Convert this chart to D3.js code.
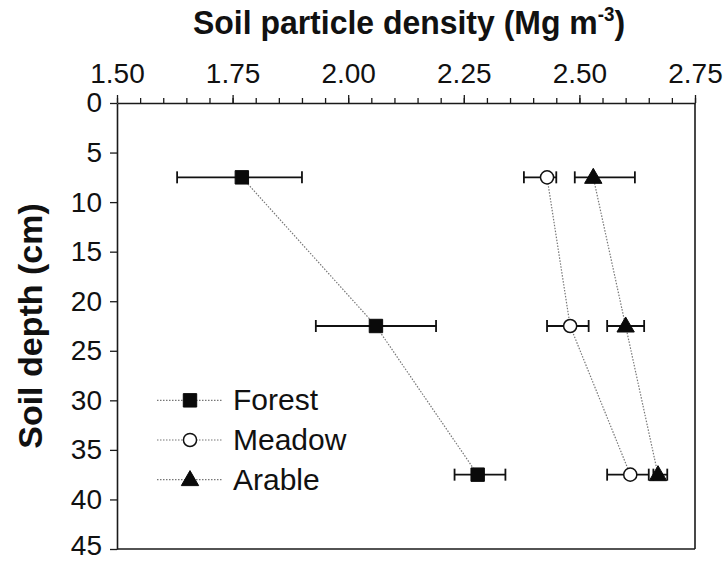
<!DOCTYPE html>
<html>
<head>
<meta charset="utf-8">
<script src="https://cdn.jsdelivr.net/npm/d3@7"></script>
<style>
  html, body { margin: 0; padding: 0; background: #fff; }
  svg { display: block; font-family: "Liberation Sans", Arial, sans-serif; }
</style>
</head>
<body>
<svg id="chart" width="728" height="562"></svg>
<script>
// ---- data ----
const depths = [7.5, 22.5, 37.5];
const seriesNames = ["Forest", "Meadow", "Arable"];
const forestMean = [1.77, 2.06, 2.28];
const forestLow  = [1.63, 1.93, 2.23];
const forestHigh = [1.90, 2.19, 2.34];
const meadowMean = [2.43, 2.48, 2.61];
const meadowLow  = [2.38, 2.43, 2.56];
const meadowHigh = [2.45, 2.52, 2.65];
const arableMean = [2.53, 2.60, 2.67];
const arableLow  = [2.49, 2.56, 2.66];
const arableHigh = [2.62, 2.64, 2.69];
const xMajorTicks = [1.50, 1.75, 2.00, 2.25, 2.50, 2.75];
const yTicks = [0, 5, 10, 15, 20, 25, 30, 35, 40, 45];
const xTitle = "Soil particle density (Mg m";
const xTitleSup = "-3";
const yTitle = "Soil depth (cm)";

const series = [
  { name: seriesNames[0], mean: forestMean, low: forestLow, high: forestHigh, symbol: "square" },
  { name: seriesNames[1], mean: meadowMean, low: meadowLow, high: meadowHigh, symbol: "circle" },
  { name: seriesNames[2], mean: arableMean, low: arableLow, high: arableHigh, symbol: "triangle" }
];

// ---- layout ----
const svg = d3.select("#chart");
const L = 117, R = 695, T = 103, B = 549;
const x = d3.scaleLinear().domain([1.5, 2.75]).range([L, R]);
const y = d3.scaleLinear().domain([0, 45]).range([T, B]);
const axisColor = "#1a1a1a";
const FONT = "'Liberation Sans', Arial, sans-serif";

// minor ticks on top axis
const minorTicks = d3.range(0, 26).map(i => +(1.5 + i * 0.05).toFixed(2));
const gMinor = svg.append("g").attr("transform", `translate(0,${T})`)
  .call(d3.axisTop(x).tickValues(minorTicks).tickSize(5).tickSizeOuter(0).tickFormat(""));
gMinor.select(".domain").remove();
gMinor.selectAll("line").attr("stroke", axisColor).attr("stroke-width", 1.3);

// major top axis
const gx = svg.append("g").attr("transform", `translate(0,${T})`)
  .call(d3.axisTop(x).tickValues(xMajorTicks).tickSize(8).tickSizeOuter(0)
        .tickPadding(12).tickFormat(d3.format(".2f")));
gx.select(".domain").attr("stroke", axisColor).attr("stroke-width", 1.6);
gx.selectAll("line").attr("stroke", axisColor).attr("stroke-width", 1.3);
gx.selectAll("text").attr("font-size", 28).attr("fill", "#111").attr("font-family", FONT);

// left axis
const gy = svg.append("g").attr("transform", `translate(${L},0)`)
  .call(d3.axisLeft(y).tickValues(yTicks).tickSize(7).tickSizeOuter(0).tickPadding(8));
gy.select(".domain").attr("stroke", axisColor).attr("stroke-width", 1.6);
gy.selectAll("line").attr("stroke", axisColor).attr("stroke-width", 1.3);
gy.selectAll("text").attr("font-size", 28).attr("fill", "#111").attr("font-family", FONT)
  .filter(d => d === 45).attr("dy", "0.2em");

// right and bottom borders
svg.append("line").attr("x1", x(2.75)).attr("x2", x(2.75)).attr("y1", y(0)).attr("y2", y(45))
  .attr("stroke", axisColor).attr("stroke-width", 1.6);
svg.append("line").attr("x1", x(1.5)).attr("x2", x(2.75)).attr("y1", y(45)).attr("y2", y(45))
  .attr("stroke", axisColor).attr("stroke-width", 1.6);

// titles
const xt = svg.append("text")
  .attr("transform", `translate(${(L + R) / 2 + 3},34) scale(0.94,1)`)
  .attr("text-anchor", "middle").attr("font-weight", "bold").attr("font-size", 34).attr("fill", "#111");
xt.append("tspan").text(xTitle);
xt.append("tspan").attr("font-size", 20).attr("dy", -13).text(xTitleSup);
xt.append("tspan").attr("dy", 13).text(")");

svg.append("text").attr("transform", `translate(42,${(T + B) / 2}) rotate(-90)`)
  .attr("text-anchor", "middle").attr("font-weight", "bold").attr("font-size", 34)
  .attr("fill", "#111").text(yTitle);

// ---- marks ----
const symbolSize = { square: 180, circle: 135, triangle: 130 };
function symbolPath(kind) {
  const t = kind === "square" ? d3.symbolSquare : kind === "circle" ? d3.symbolCircle : d3.symbolTriangle;
  return d3.symbol().type(t).size(symbolSize[kind])();
}
function drawMarker(g, kind, cx, cy) {
  const p = g.append("path").attr("d", symbolPath(kind))
    .attr("transform", `translate(${cx},${cy + (kind === "triangle" ? 1 : 0)})`);
  if (kind === "circle") p.attr("fill", "#fff").attr("stroke", "#111").attr("stroke-width", 1.5);
  else p.attr("fill", "#0a0a0a").attr("stroke", "#0a0a0a").attr("stroke-width", 1);
}

const line = d3.line().x(d => x(d.v)).y(d => y(d.depth));
series.forEach(s => {
  const pts = depths.map((dp, i) => ({ depth: dp, v: s.mean[i] }));
  svg.append("path").datum(pts).attr("d", line).attr("fill", "none")
    .attr("stroke", "#777").attr("stroke-width", 1.2).attr("stroke-dasharray", "1.5,1.5");
});

series.forEach(s => {
  const g = svg.append("g");
  depths.forEach((dp, i) => {
    const yy = y(dp);
    g.append("line").attr("x1", x(s.low[i])).attr("x2", x(s.high[i])).attr("y1", yy).attr("y2", yy)
      .attr("stroke", "#111").attr("stroke-width", 1.8);
    [s.low[i], s.high[i]].forEach(v => {
      g.append("line").attr("x1", x(v)).attr("x2", x(v)).attr("y1", yy - 6).attr("y2", yy + 6)
        .attr("stroke", "#111").attr("stroke-width", 1.8);
    });
  });
});

series.forEach(s => {
  const g = svg.append("g");
  depths.forEach((dp, i) => drawMarker(g, s.symbol, x(s.mean[i]), y(dp)));
});

// ---- legend ----
const legendY = [30, 34, 38];
series.forEach((s, i) => {
  const ly = y(legendY[i]);
  const g = svg.append("g");
  g.append("line").attr("x1", 157).attr("x2", 222).attr("y1", ly).attr("y2", ly)
    .attr("stroke", "#777").attr("stroke-width", 1.2).attr("stroke-dasharray", "1.5,1.5");
  drawMarker(g, s.symbol, 190, ly);
  g.append("text").attr("x", 233).attr("y", ly + 10).attr("font-size", 30).attr("fill", "#111")
    .attr("font-family", FONT).text(s.name);
});
</script>
</body>
</html>
